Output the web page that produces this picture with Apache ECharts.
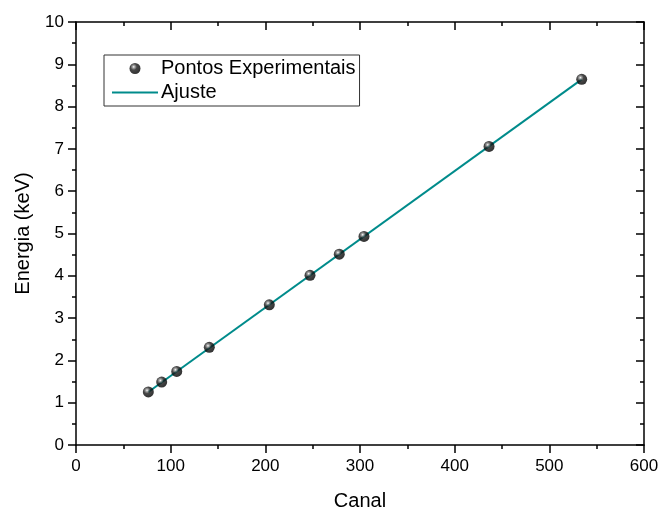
<!DOCTYPE html>
<html>
<head>
<meta charset="utf-8">
<script src="https://cdn.jsdelivr.net/npm/echarts@6/dist/echarts.min.js"></script>
<style>html,body{margin:0;padding:0;background:#fff}#c{width:660px;height:511px}</style>
</head>
<body>
<div id="c"></div>
<script>
// Data
var canal = [76.4, 90.5, 106.4, 140.8, 204.2, 247.2, 278.1, 304.2, 436.3, 534.2];
var energia = [1.254, 1.487, 1.740, 2.308, 3.314, 4.012, 4.511, 4.932, 7.058, 8.645];
var fitX = [76.4, 534.2];
var fitY = [1.254, 8.645];
var seriesNames = ['Pontos Experimentais', 'Ajuste'];
var xTitle = 'Canal';
var yTitle = 'Energia (keV)';

var font = 'Liberation Sans, Arial, sans-serif';
var pts = canal.map(function (x, i) { return [x, energia[i]]; });
var fit = fitX.map(function (x, i) { return [x, fitY[i]]; });

var sphere = {
  type: 'radial', x: 0.38, y: 0.35, r: 0.65,
  colorStops: [
    { offset: 0, color: '#ffffff' },
    { offset: 0.15, color: '#999999' },
    { offset: 0.45, color: '#1a1a1a' },
    { offset: 1, color: '#000000' }
  ]
};

var axisLine = { show: true, onZero: false, lineStyle: { color: '#000', width: 1.5 } };

var chart = echarts.init(document.getElementById('c'), null, { renderer: 'canvas' });
chart.setOption({
  animation: false,
  backgroundColor: '#fff',
  grid: { left: 76, right: 16, top: 22, bottom: 66, containLabel: false, outerBoundsMode: 'none' },
  legend: {
    orient: 'vertical',
    left: 104, top: 55,
    padding: [3, 4, 3, 7],
    backgroundColor: '#fff',
    borderColor: '#333', borderWidth: 1,
    itemWidth: 46, itemHeight: 11, itemGap: 3,
    textStyle: { fontFamily: font, fontSize: 20, color: '#000', lineHeight: 21, padding: [0, 0, 0, -2] },
    data: [
      { name: seriesNames[0] },
      { name: seriesNames[1], itemStyle: { opacity: 0 } }
    ]
  },
  xAxis: [{
    type: 'value', min: 0, max: 600, interval: 100, position: 'bottom',
    name: xTitle, nameLocation: 'middle', nameGap: 46,
    nameTextStyle: { fontFamily: font, fontSize: 20, color: '#000' },
    axisLine: axisLine,
    axisTick: { show: true, inside: false, length: 8, lineStyle: { color: '#000', width: 1.5 } },
    minorTick: { show: true, splitNumber: 2, length: 4, lineStyle: { color: '#000', width: 1.5 } },
    axisLabel: { fontFamily: font, fontSize: 17, color: '#000', margin: 13 },
    splitLine: { show: false }
  }, {
    type: 'value', min: 0, max: 600, interval: 100, position: 'top',
    axisLine: axisLine,
    axisTick: { show: true, inside: true, length: 8, lineStyle: { color: '#000', width: 1.5 } },
    minorTick: { show: true, splitNumber: 2, length: 4, lineStyle: { color: '#000', width: 1.5 } },
    axisLabel: { show: false },
    splitLine: { show: false }
  }],
  yAxis: [{
    type: 'value', min: 0, max: 10, interval: 1, position: 'left',
    name: yTitle, nameLocation: 'middle', nameGap: 43,
    nameTextStyle: { fontFamily: font, fontSize: 20, color: '#000' },
    axisLine: axisLine,
    axisTick: { show: true, inside: false, length: 8, lineStyle: { color: '#000', width: 1.5 } },
    minorTick: { show: true, splitNumber: 2, length: 4, lineStyle: { color: '#000', width: 1.5 } },
    axisLabel: { fontFamily: font, fontSize: 17, color: '#000', margin: 12 },
    splitLine: { show: false }
  }, {
    type: 'value', min: 0, max: 10, interval: 1, position: 'right',
    axisLine: axisLine,
    axisTick: { show: true, inside: true, length: 8, lineStyle: { color: '#000', width: 1.5 } },
    minorTick: { show: true, splitNumber: 2, length: 4, lineStyle: { color: '#000', width: 1.5 } },
    axisLabel: { show: false },
    splitLine: { show: false }
  }],
  series: [{
    name: seriesNames[1],
    type: 'line',
    data: fit,
    symbol: 'none',
    showSymbol: false,
    lineStyle: { color: '#008b8b', width: 2 },
    itemStyle: { color: '#008b8b' },
    z: 2
  }, {
    name: seriesNames[0],
    type: 'scatter',
    data: pts,
    symbol: 'circle',
    symbolSize: 11,
    itemStyle: { color: sphere },
    z: 3
  }]
});
</script>
</body>
</html>
